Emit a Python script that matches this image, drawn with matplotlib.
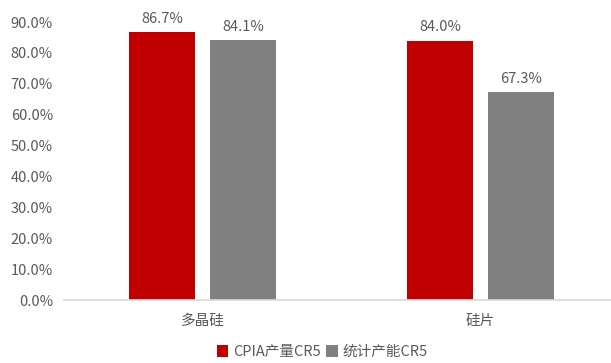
import matplotlib.pyplot as plt
import numpy as np

plt.rcParams['font.family'] = ['Noto Sans CJK SC', 'DejaVu Sans']

categories = ['多晶硅', '硅片']
series_names = ['CPIA产量CR5', '统计产能CR5']
cpia_cr5 = [86.7, 84.0]
capacity_cr5 = [84.1, 67.3]
yticks = [0, 10, 20, 30, 40, 50, 60, 70, 80, 90]

red = '#C00000'
gray = '#808080'
text_color = '#595959'

fig = plt.figure(figsize=(6.11, 3.63), dpi=100)
ax = fig.add_axes([64 / 611, 63 / 363, 1 - 64 / 611, 278 / 363])

x = np.arange(len(categories))
w = 0.237
off = 0.146
b1 = ax.bar(x - off, cpia_cr5, w, color=red, label=series_names[0])
b2 = ax.bar(x + off, capacity_cr5, w, color=gray, label=series_names[1])

# value labels above bars
for bars, vals in [(b1, cpia_cr5), (b2, capacity_cr5)]:
    for b, v in zip(bars, vals):
        ax.annotate('%.1f%%' % v, (b.get_x() + b.get_width() / 2, v),
                    xytext=(0, 4.5), textcoords='offset points',
                    ha='center', va='bottom', fontsize=10.5, color=text_color)

ax.set_xlim(-0.5, 1.47)
ax.set_ylim(0, 90)
ax.set_yticks(yticks)
ax.set_yticklabels(['%.1f%%' % t for t in yticks])
ax.set_xticks(x)
ax.set_xticklabels(categories)
ax.tick_params(axis='both', length=0, labelsize=10.5, colors=text_color)
ax.tick_params(axis='x', pad=10)
ax.tick_params(axis='y', pad=8)

for s in ['top', 'right', 'left']:
    ax.spines[s].set_visible(False)
ax.spines['bottom'].set_color('#D9D9D9')
ax.spines['bottom'].set_linewidth(1.2)

fig.legend(loc='center', bbox_to_anchor=(0.527, 0.03), ncol=2, frameon=False,
           fontsize=10.5, labelcolor=text_color, handlelength=0.8, handleheight=0.8,
           handletextpad=0.3, columnspacing=0.4)

fig.savefig('out.png', dpi=100)
